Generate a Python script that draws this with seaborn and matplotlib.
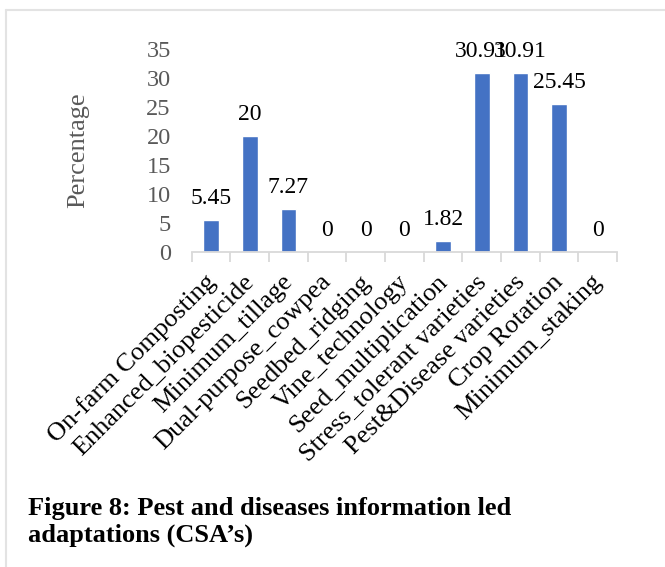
import matplotlib
matplotlib.use("Agg")
import matplotlib.pyplot as plt
from matplotlib.lines import Line2D
from matplotlib.transforms import ScaledTranslation
import seaborn as sns
import pandas as pd

categories = [
    "On-farm Composting",
    "Enhanced_biopesticide",
    "Minimum_tillage",
    "Dual-purpose_cowpea",
    "Seedbed_ridging",
    "Vine_technology",
    "Seed_multiplication",
    "Stress_tolerant varieties",
    "Pest&Disease varieties",
    "Crop Rotation",
    "Minimum_staking",
]
percentages = [5.45, 20, 7.27, 0, 0, 0, 1.82, 30.91, 30.91, 25.45, 0]
value_labels = ["5.45", "20", "7.27", "0", "0", "0", "1.82", "30.91", "30.91", "25.45", "0"]
y_ticks = [0, 5, 10, 15, 20, 25, 30, 35]

sns.set_style("white")
plt.rcParams["font.family"] = ["Liberation Serif", "DejaVu Serif"]

df = pd.DataFrame({"Practice": categories, "Percentage": percentages})

W, H = 665, 567
fig = plt.figure(figsize=(W / 100, H / 100), dpi=100)
ax = fig.add_axes([191.7 / W, 1 - 251.5 / H, (617 - 191.7) / W, (251.5 - 49) / H])

sns.barplot(data=df, x="Practice", y="Percentage", color="#4472C4",
            saturation=1, width=0.405, ax=ax)

ax.set_xlim(-0.5, len(categories) - 0.5)
ax.set_ylim(0, 35)
ax.set_yticks(y_ticks)
ax.set_yticklabels([str(t) for t in y_ticks], fontsize=17.5, color="#595959")
ax.tick_params(axis="y", length=0, pad=15)

# category labels, slanted
ax.set_xticks(range(len(categories)))
ax.set_xticklabels(categories, rotation=45, ha="right", va="center",
                   rotation_mode="anchor", fontsize=19, color="black")
ax.tick_params(axis="x", which="major", length=0, pad=19.5)
shift = ScaledTranslation(1 / 100, 0, fig.dpi_scale_trans)
for lab in ax.get_xticklabels():
    lab.set_transform(lab.get_transform() + shift)
# boundary tick marks between categories
ax.set_xticks([i - 0.5 for i in range(len(categories) + 1)], minor=True)
ax.tick_params(axis="x", which="minor", length=7, width=1.3, color="#d9d9d9",
               direction="out", bottom=True)

ax.set_xlabel("")
ax.set_ylabel("Percentage", fontsize=19, color="#595959")
ax.yaxis.set_label_coords((89 - 191.7) / (617 - 191.7), 0.5)

for s in ["top", "right", "left"]:
    ax.spines[s].set_visible(False)
ax.spines["bottom"].set_color("#d9d9d9")
ax.spines["bottom"].set_linewidth(1.3)

# value labels above the bars
for i, (v, lab) in enumerate(zip(percentages, value_labels)):
    ax.annotate(lab, (i, v), xytext=(0, 11.5), textcoords="offset points",
                ha="center", va="baseline", fontsize=17, color="black",
                annotation_clip=False)

# light frame around the chart
fig.add_artist(Line2D([6 / W, 1.0], [1 - 10 / H, 1 - 10 / H],
                      transform=fig.transFigure, color="#e3e3e3", lw=1.5))
fig.add_artist(Line2D([6 / W, 6 / W], [1 - 10 / H, 0.0],
                      transform=fig.transFigure, color="#e3e3e3", lw=1.5))

caption_lines = ["Figure 8: Pest and diseases information led", "adaptations (CSA\u2019s)"]
for k, line in enumerate(caption_lines):
    fig.text(28 / W, 1 - (515 + 27 * k) / H, line,
             fontsize=19, fontweight="bold", ha="left", va="baseline",
             color="black")

fig.savefig("out.png", dpi=100)
